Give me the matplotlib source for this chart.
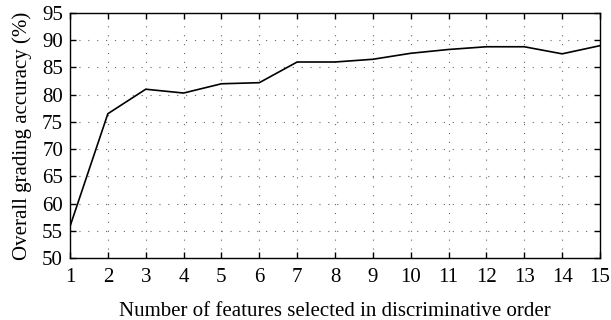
import matplotlib
matplotlib.use("Agg")
import matplotlib.pyplot as plt

n_features = [1, 2, 3, 4, 5, 6, 7, 8, 9, 10, 11, 12, 13, 14, 15]
accuracy = [55.8, 76.5, 81.0, 80.3, 82.0, 82.2, 86.0, 86.0, 86.5, 87.6, 88.3, 88.8, 88.8, 87.5, 89.0]
y_ticks = [50, 55, 60, 65, 70, 75, 80, 85, 90, 95]

plt.rcParams['font.family'] = ['Liberation Serif', 'DejaVu Serif']

fig = plt.figure(figsize=(6.11, 3.2), dpi=100)
ax = fig.add_axes([70/611, 1-258/320, 530/611, 245/320])
ax.plot(n_features, accuracy, color='black', linewidth=1.2)
ax.set_xlim(1, 15)
ax.set_ylim(50, 95)
ax.set_xticks(n_features)
ax.set_yticks(y_ticks)
ax.grid(True, linestyle=(0, (1, 7)), color='#666666', linewidth=0.8)
ax.tick_params(direction='in', top=True, right=True, length=4, width=1, labelsize=15)
ax.tick_params(axis='x', pad=7)
ax.tick_params(axis='y', pad=5)
for s in ax.spines.values():
    s.set_linewidth(1.0)
ax.set_xlabel('Number of features selected in discriminative order', fontsize=15, labelpad=11)
ax.set_ylabel('Overall grading accuracy (%)', fontsize=15, labelpad=7)
fig.savefig('out.png', dpi=100)
